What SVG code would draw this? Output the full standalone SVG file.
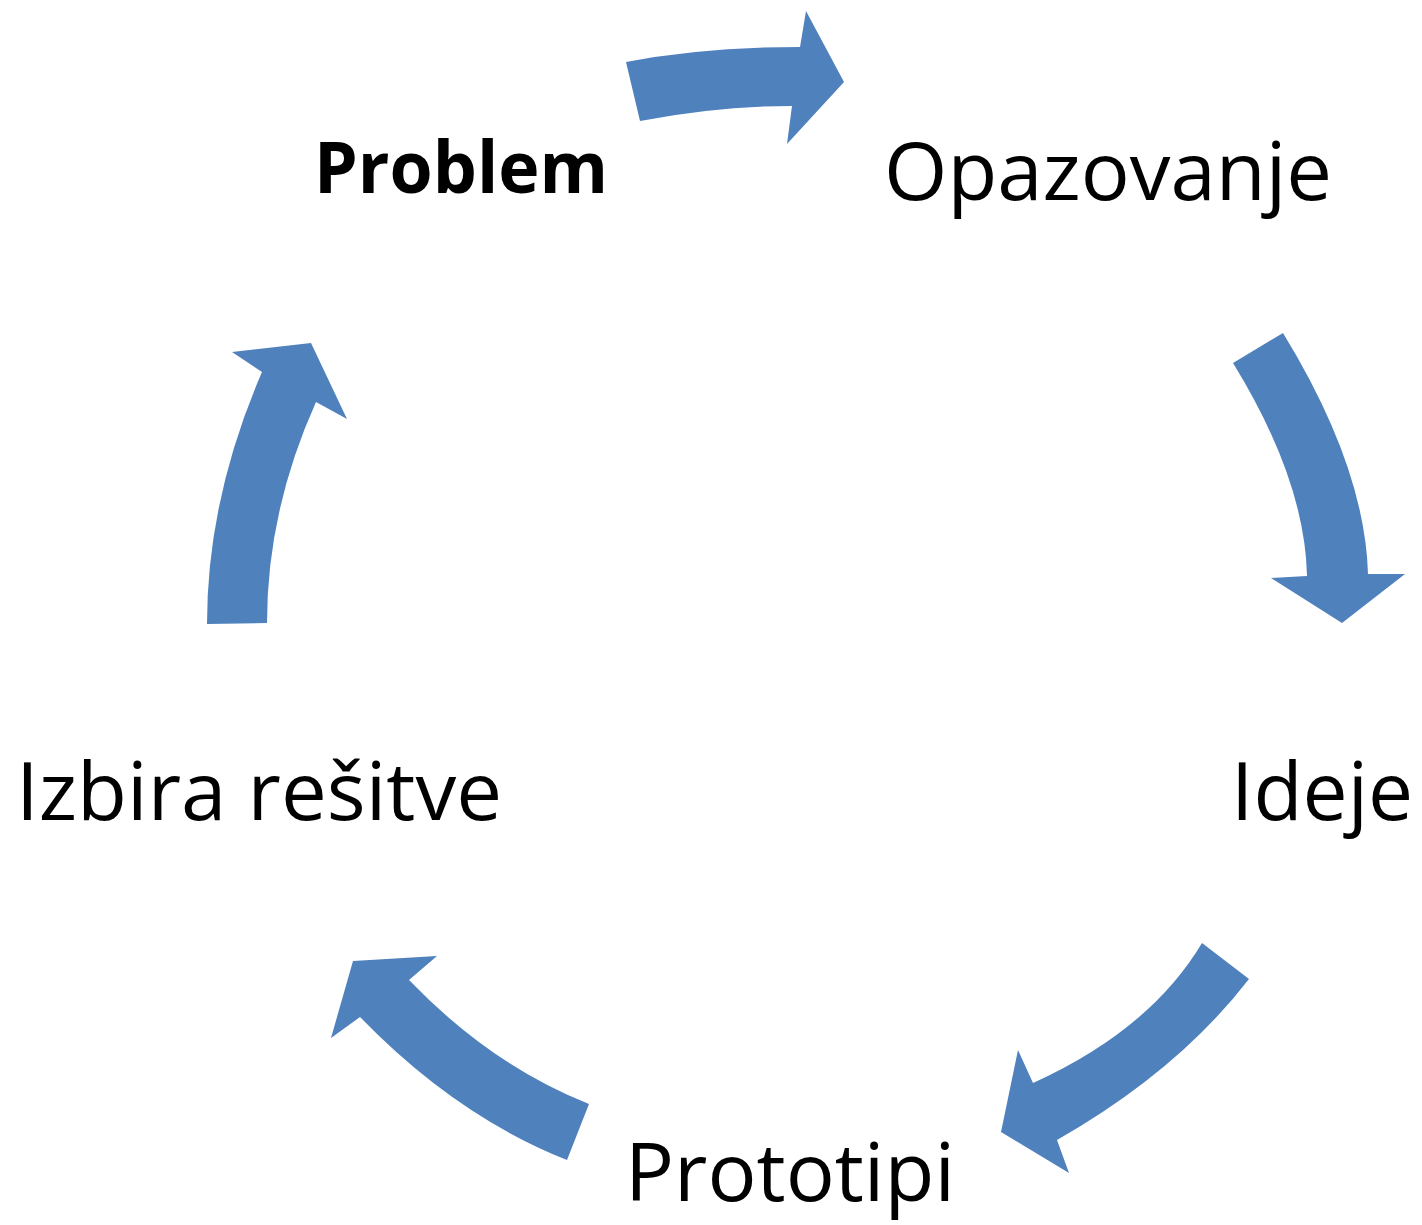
<svg xmlns="http://www.w3.org/2000/svg" width="1422" height="1225" viewBox="0 0 1422 1225">
<style>
.arrow{fill:#4F81BD;stroke:none}
.lbl{font-family:"Open Sans","Noto Sans","Liberation Sans",sans-serif;font-size:81px;fill:#000}
.bold{font-weight:bold;font-size:71px}
</style>
<rect width="1422" height="1225" fill="#fff"/>
<g id="connectors">
<path id="arrow-problem-opazovanje" class="arrow" d="M626,62 Q705,47 800,47 L806,11 L844,82 L787,144 L792,106 Q719,106 640,121 Z"/>
<path id="arrow-opazovanje-ideje" class="arrow" d="M1283,333 Q1365,467 1368,574 L1405,574 L1342,623 L1271,578 L1307,576 Q1305,480 1233,363 Z"/>
<path id="arrow-ideje-prototipi" class="arrow" d="M1249,979 Q1178,1071 1057,1140 L1069,1173 L1001,1132 L1018,1050 L1033,1083 Q1150,1030 1202,943 Z"/>
<path id="arrow-prototipi-izbira" class="arrow" d="M567,1160 Q456,1116 360,1017 L331,1038 L353,961 L437,956 L409,980 Q492,1066 589,1104 Z"/>
<path id="arrow-izbira-problem" class="arrow" d="M207,624 Q207,499 262,372 L232,352 L311,343 L347,419 L316,402 Q267,511 267,623 Z"/>
</g>
<g id="node-problem"><text class="lbl bold" x="314" y="193" textLength="294" lengthAdjust="spacingAndGlyphs">Problem</text></g>
<g id="node-opazovanje"><text class="lbl" x="884" y="200" textLength="448" lengthAdjust="spacingAndGlyphs">Opazovanje</text></g>
<g id="node-ideje"><text class="lbl" x="1231" y="820" textLength="182" lengthAdjust="spacingAndGlyphs">Ideje</text></g>
<g id="node-prototipi"><text class="lbl" x="625" y="1201" textLength="330" lengthAdjust="spacingAndGlyphs">Prototipi</text></g>
<g id="node-izbira"><text class="lbl" x="16" y="820" textLength="486" lengthAdjust="spacingAndGlyphs">Izbira rešitve</text></g>
</svg>
